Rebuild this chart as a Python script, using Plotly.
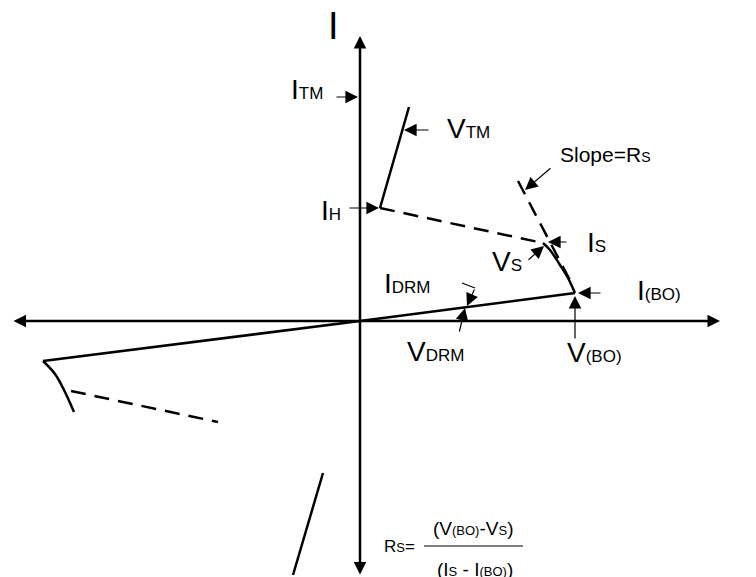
import plotly.graph_objects as go

# V / I coordinates (origin where the two axes cross)
axis_v = [-348, 360]
axis_i = [285, -255]

# characteristic curves
block_fwd_v = [0, 215]
block_fwd_i = [0, 28]
block_rev_v = [0, -317]
block_rev_i = [0, -40]
rev_knee_v = [-317, -305, -296, -286]
rev_knee_i = [-40, -53, -69, -91]
rev_dash_v = [-289, -142]
rev_dash_i = [-70, -101]
rev_on_v = [-67, -37]
rev_on_i = [-254, -152]
on_state_v = [20, 49]
on_state_i = [113, 214]
hold_dash_v = [20, 183]
hold_dash_i = [113, 78]
breakover_v = [183, 190, 200, 208, 215]
breakover_i = [78, 71, 56, 43, 28]
slope_v = [158, 213]
slope_i = [140, 35]
drm_tick_v = [102, 115]
drm_tick_i = [38, 33]
frac_v = [64, 163]
frac_i = [-225, -225]

# label arrows: (tail_v, tail_i, head_v, head_i)
arrows = [
    (-25, 224, -2, 224),    # I_TM
    (70, 191, 44, 191),     # V_TM
    (-12, 113, 19, 113),    # I_H
    (192, 154, 165, 131),   # slope
    (208, 79, 188, 79),     # I_S
    (167, 60, 184, 75),     # V_S
    (242, 28, 218, 28),     # I_(BO)
    (215, -19, 215, 25),    # V_(BO)
    (115, 33, 107, 15),     # I_DRM
    (99, -12, 105, 13),     # V_DRM
]

SUB = "<span style='font-size:17px'>{}</span>"
labels = [
    ("I" + SUB.format("TM"), -71, 232, 28),
    ("V" + SUB.format("TM"), 85, 193, 28),
    ("I" + SUB.format("H"), -41, 111, 28),
    ("Slope=R<span style='font-size:14px'>S</span>", 198, 167, 21),
    ("I" + SUB.format("S"), 225, 79, 28),
    ("V" + SUB.format("S"), 130, 60, 28),
    ("I" + SUB.format("(BO)"), 275, 31, 28),
    ("V" + SUB.format("(BO)"), 205, -31, 28),
    ("I" + SUB.format("DRM"), 22, 38, 28),
    ("V" + SUB.format("DRM"), 45, -30, 28),
    ("V", 387, -1, 29),
]

SM = "<span style='font-size:13px'>{}</span>"
formula = [
    ("R" + SM.format("S") + "=", 22, -225, 17),
    ("(V" + SM.format("(BO)") + "-V" + SM.format("S") + ")", 113, -207, 19),
    ("(I" + SM.format("S") + " - I" + SM.format("(BO)") + ")", 115, -248, 19),
]

BLACK = "black"
fig = go.Figure()


def add_line(v, i, width=2.5, dash="solid", shape="linear"):
    fig.add_trace(go.Scatter(x=v, y=i, mode="lines", hoverinfo="skip",
                             line=dict(color=BLACK, width=width, dash=dash,
                                       shape=shape)))


add_line(block_fwd_v, block_fwd_i)
add_line(block_rev_v, block_rev_i)
add_line(rev_knee_v, rev_knee_i, shape="spline")
add_line(rev_dash_v, rev_dash_i, dash="15px,9px")
add_line(rev_on_v, rev_on_i)
add_line(on_state_v, on_state_i)
add_line(hold_dash_v, hold_dash_i, dash="15px,9px")
add_line(breakover_v, breakover_i, shape="spline")
add_line(slope_v, slope_i, dash="15px,9px")
add_line(drm_tick_v, drm_tick_i, width=1.2)
add_line(frac_v, frac_i, width=1.2)

annotations = []
# the two axes, double headed
annotations.append(dict(x=axis_v[1], y=0, ax=axis_v[0], ay=0,
                        arrowside="end+start", arrowwidth=2.5, arrowsize=1))
annotations.append(dict(x=0, y=axis_i[0], ax=0, ay=axis_i[1],
                        arrowside="end+start", arrowwidth=2.5, arrowsize=1))
for tv, ti, hv, hi in arrows:
    annotations.append(dict(x=hv, y=hi, ax=tv, ay=ti, arrowwidth=1.2,
                            arrowsize=2.1))
for a in annotations:
    a.update(xref="x", yref="y", axref="x", ayref="y", text="",
             showarrow=True, arrowhead=2, arrowcolor=BLACK)

annotations.append(dict(x=-27, y=295, text="I", showarrow=False,
                        font=dict(size=38)))
for txt, v, i, size in labels:
    annotations.append(dict(x=v, y=i, text=txt, showarrow=False,
                            xanchor="left", font=dict(size=size)))
for txt, v, i, size in formula:
    annotations.append(dict(x=v, y=i, text=txt, showarrow=False,
                            xanchor="center" if v > 60 else "left",
                            font=dict(size=size)))

# page body adds an 8px margin, so the ranges are shifted by 8 units
fig.update_layout(
    width=756, height=577,
    margin=dict(l=0, r=0, t=0, b=0),
    paper_bgcolor="white", plot_bgcolor="white",
    showlegend=False,
    font=dict(family="Arial, Liberation Sans, sans-serif", color=BLACK),
    xaxis=dict(range=[-352, 404], visible=False, fixedrange=True),
    yaxis=dict(range=[-264, 313], visible=False, fixedrange=True),
    annotations=annotations,
)

fig.write_html("out.html")
